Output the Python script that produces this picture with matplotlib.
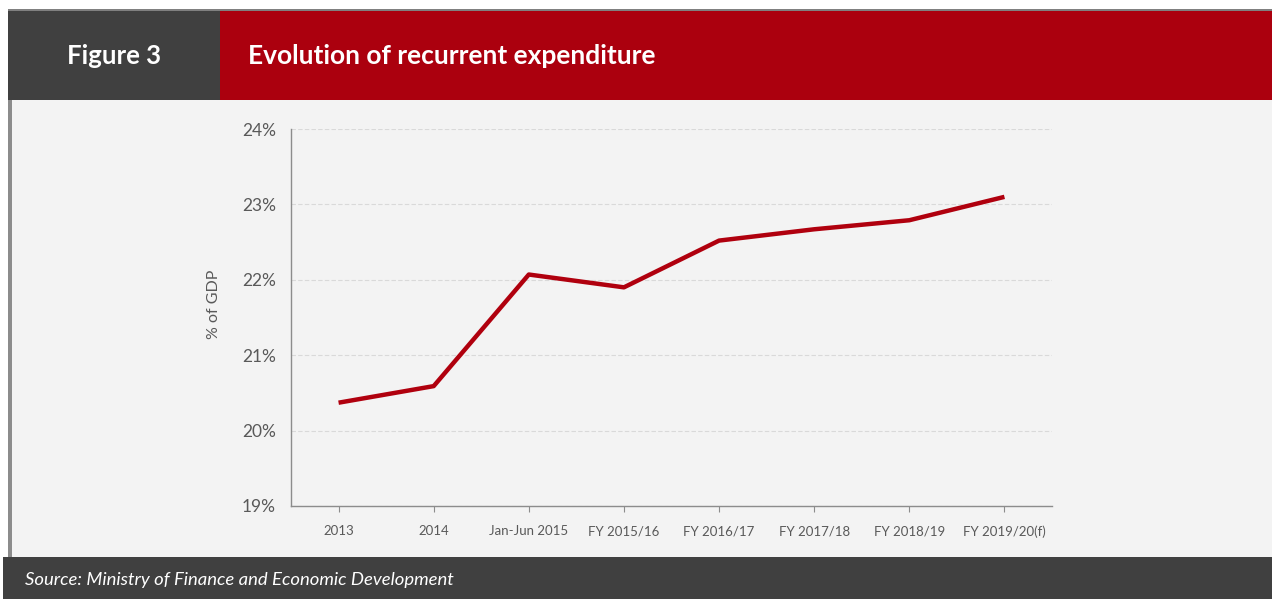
import matplotlib
matplotlib.use("Agg")
import matplotlib.pyplot as plt
from matplotlib.patches import Rectangle

categories = ["2013", "2014", "Jan-Jun 2015", "FY 2015/16", "FY 2016/17",
              "FY 2017/18", "FY 2018/19", "FY 2019/20(f)"]
values = [20.37, 20.59, 22.07, 21.90, 22.52, 22.67, 22.79, 23.10]
y_ticks = [19, 20, 21, 22, 23, 24]
y_tick_labels = ["19%", "20%", "21%", "22%", "23%", "24%"]
title = "Evolution of recurrent expenditure"
fig_label = "Figure 3"
y_label = "% of GDP"
source = "Source: Ministry of Finance and Economic Development"

W, H = 1272, 599
plt.rcParams['font.family'] = ['Lato', 'DejaVu Sans']
fig = plt.figure(figsize=(W / 100, H / 100), dpi=100)
fig.patch.set_facecolor("white")

def rect(x0, y0, x1, y1, color, z=-5):
    # pixel coords, y from top
    fig.patches.append(Rectangle((x0 / W, 1 - y1 / H), (x1 - x0) / W, (y1 - y0) / H,
                                 transform=fig.transFigure, facecolor=color,
                                 edgecolor="none", zorder=z))

rect(8, 100, W, 557, "#f3f3f3")
rect(8, 100, 12, 557, "#8c8c8c")
rect(8, 9, W, 11, "#808080")
rect(8, 11, 220, 100, "#404040")
rect(220, 11, W, 100, "#ab000e")
rect(3, 557, W, 599, "#404040")

fig.text(114 / W, 1 - 56 / H, fig_label, color="white", fontsize=18.5,
         fontweight="bold", ha="center", va="center")
fig.text(248 / W, 1 - 56 / H, title, color="white", fontsize=19,
         fontweight="bold", ha="left", va="center")
fig.text(25 / W, 1 - 580 / H, source, color="white", fontsize=13.3,
         style="italic", ha="left", va="center")

ax = fig.add_axes([291 / W, 93 / H, (1052 - 291) / W, (506 - 129) / H])
ax.set_zorder(5)
ax.set_facecolor("none")
x = list(range(len(categories)))
ax.plot(x, values, color="#b0000e", linewidth=3.2, solid_capstyle="butt", zorder=3)
ax.set_xlim(-0.5, len(categories) - 0.5)
ax.set_ylim(19, 24)
ax.set_yticks(y_ticks)
ax.set_yticklabels(y_tick_labels, fontsize=12.5, color="#595959")
ax.set_xticks(x)
ax.set_xticklabels(categories, fontsize=9.5, color="#595959")
ax.tick_params(axis="y", length=0, pad=11)
ax.tick_params(axis="x", length=4, color="#8c8c8c", pad=10)
ax.set_ylabel(y_label, fontsize=11.5, color="#595959")
ax.yaxis.set_label_coords(-0.092, 0.536)
for sp in ["top", "right"]:
    ax.spines[sp].set_visible(False)
for sp in ["left", "bottom"]:
    ax.spines[sp].set_color("#8c8c8c")
    ax.spines[sp].set_linewidth(1)
ax.grid(axis="y", color="#d9d9d9", linestyle=(0, (4, 2)), linewidth=0.8)
ax.set_axisbelow(True)

fig.savefig("out.png", dpi=100, facecolor=fig.get_facecolor())
